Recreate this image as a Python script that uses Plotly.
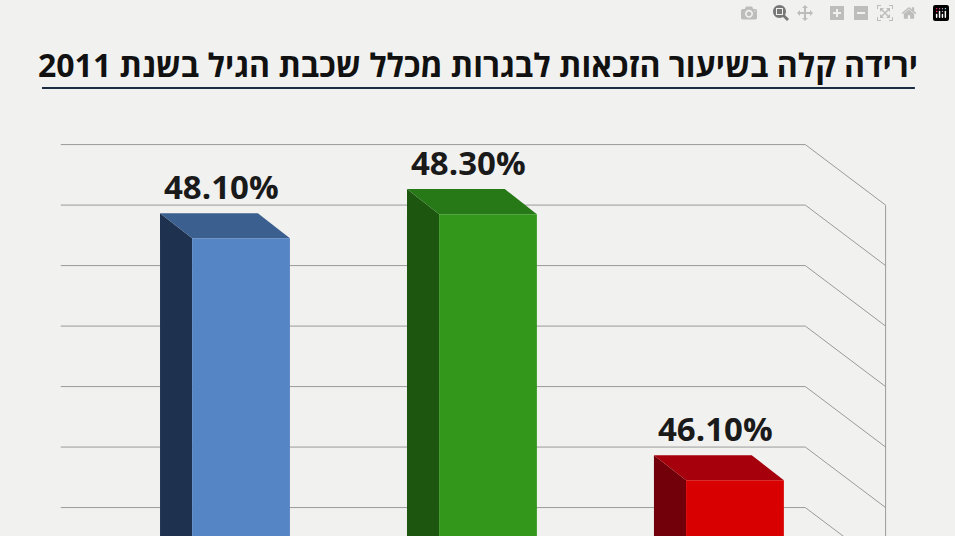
import numpy as np
import plotly.graph_objects as go

title = "ירידה קלה בשיעור הזכאות לבגרות מכלל שכבת הגיל בשנת 2011"
positions = [0, 1, 2]
values = [48.1, 48.3, 46.1]
labels = ["48.10%", "48.30%", "46.10%"]
front_colors = ["#5585c4", "#33971c", "#d80000"]
side_colors = ["#1e3250", "#1d560e", "#72000a"]
top_colors = ["#3b5f8e", "#277817", "#a5000c"]

y_min, y_max = 45.64, 50.07
x_min, x_max = -0.976, 2.891
half_w = 0.198
dx, dy = -0.13, 0.207
grid_vals = np.arange(45.875, 49.0, 0.5)

fig = go.Figure()

# back wall grid + right side wall
wall_left, wall_right, side_right = -0.73, 2.285, 2.61
for g in grid_vals:
    fig.add_trace(go.Scatter(x=[wall_left, wall_right, side_right], y=[g, g, g - 0.5],
                             mode="lines", line=dict(color="#9a9a9a", width=1),
                             hoverinfo="skip", showlegend=False))
fig.add_trace(go.Scatter(x=[side_right, side_right], y=[y_min, grid_vals[-1] - 0.5],
                         mode="lines", line=dict(color="#9a9a9a", width=1),
                         hoverinfo="skip", showlegend=False))

for x, v, fc, sc, tc, lab in zip(positions, values, front_colors, side_colors, top_colors, labels):
    l, r = x - half_w, x + half_w
    # side face
    fig.add_trace(go.Scatter(x=[l, l + dx, l + dx, l, l], y=[y_min, y_min, v + dy, v, y_min],
                             fill="toself", fillcolor=sc, line=dict(width=0), mode="lines",
                             hoverinfo="skip", showlegend=False))
    # top face
    fig.add_trace(go.Scatter(x=[l, l + dx, r + dx, r, l], y=[v, v + dy, v + dy, v, v],
                             fill="toself", fillcolor=tc, line=dict(width=0), mode="lines",
                             hoverinfo="skip", showlegend=False))
    # front face
    fig.add_trace(go.Scatter(x=[l, r, r, l, l], y=[y_min, y_min, v, v, y_min],
                             fill="toself", fillcolor=fc, line=dict(width=0), mode="lines",
                             hoverinfo="skip", showlegend=False))
    fig.add_annotation(x=x - 0.08, y=v + dy, text=f"<b>{lab}</b>", showarrow=False,
                       yanchor="bottom", yshift=2,
                       font=dict(family="Open Sans", size=33, color="#1a1a1a"))

fig.add_annotation(xref="paper", yref="paper", x=0.5, y=0.879, yanchor="middle",
                   text=f"<b>{title}</b>", showarrow=False,
                   font=dict(family="Open Sans", size=32, color="#111111"))
fig.add_shape(type="line", xref="paper", yref="paper", x0=0.044, x1=0.958, y0=0.836, y1=0.836,
              line=dict(color="#1c2a44", width=2))

fig.update_layout(width=955, height=536, margin=dict(l=0, r=0, t=0, b=0),
                  paper_bgcolor="#f1f1f0", plot_bgcolor="#f1f1f0",
                  xaxis=dict(range=[x_min, x_max], visible=False),
                  yaxis=dict(range=[y_min, y_max], visible=False))

fig.write_html("out.html", post_script="document.body.style.margin='0';")
